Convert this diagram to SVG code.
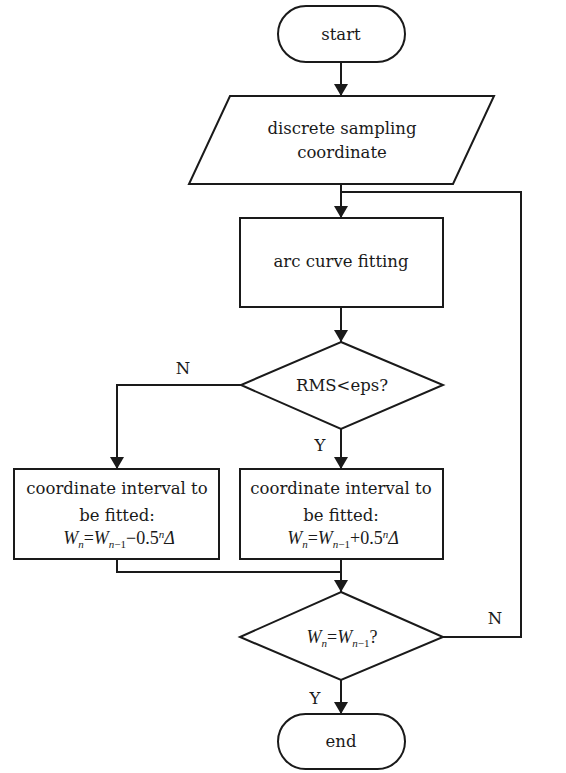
<svg xmlns="http://www.w3.org/2000/svg" width="566" height="773" viewBox="0 0 566 773">
<style>
.s{fill:#fff;stroke:#1a1a1a;stroke-width:2}
.c{fill:none;stroke:#1a1a1a;stroke-width:2}
text{font-family:"DejaVu Serif","Liberation Serif",serif;font-size:16.5px;fill:#1a1a1a;text-anchor:middle}
.f{font-family:"Liberation Serif","Times New Roman",serif;font-size:18px}
.i{font-style:italic}
.sub{font-size:11px}
</style>
<defs>
<marker id="a" viewBox="0 0 12 14" refX="12" refY="7" markerWidth="12" markerHeight="14" markerUnits="userSpaceOnUse" orient="auto">
<path d="M0,0 L12,7 L0,14 Z" fill="#1a1a1a"/>
</marker>
</defs>
<g id="connectors">
<path class="c" d="M341,62 V96" marker-end="url(#a)"/>
<path class="c" d="M341,184 V218" marker-end="url(#a)"/>
<path class="c" d="M341,307 V342" marker-end="url(#a)"/>
<path class="c" d="M241,385 H117 V469" marker-end="url(#a)"/>
<path class="c" d="M341,429 V469" marker-end="url(#a)"/>
<path class="c" d="M117,559 V572 H341"/>
<path class="c" d="M341,559 V592" marker-end="url(#a)"/>
<path class="c" d="M443,637 H521 V192 H341"/>
<path class="c" d="M341,680 V714" marker-end="url(#a)"/>
<text x="183" y="374">N</text>
<text x="320" y="451">Y</text>
<text x="495" y="624">N</text>
<text x="315" y="704">Y</text>
</g>
<g id="start">
<rect class="s" x="278" y="6" width="127" height="56" rx="28"/>
<text x="341" y="40">start</text>
</g>
<g id="input">
<polygon class="s" points="230,96 494,96 453,184 189,184"/>
<text x="342" y="134">discrete sampling</text>
<text x="342" y="158">coordinate</text>
</g>
<g id="fit">
<rect class="s" x="240" y="218" width="203" height="89"/>
<text x="341" y="267">arc curve fitting</text>
</g>
<g id="rms">
<polygon class="s" points="341,342 443,385 341,429 241,385"/>
<text x="342" y="391">RMS&lt;eps?</text>
</g>
<g id="left">
<rect class="s" x="14" y="469" width="205" height="90"/>
<text x="117" y="494">coordinate interval to</text>
<text x="117" y="521">be fitted:</text>
<text class="f" x="119" y="544"><tspan class="i">W</tspan><tspan class="i sub" dy="4">n</tspan><tspan dy="-4">=</tspan><tspan class="i">W</tspan><tspan class="i sub" dy="4">n</tspan><tspan class="sub">−1</tspan><tspan dy="-4">−0.5</tspan><tspan class="i sub" dy="-6">n</tspan><tspan class="i" dy="6">Δ</tspan></text>
</g>
<g id="right">
<rect class="s" x="240" y="469" width="203" height="90"/>
<text x="341" y="494">coordinate interval to</text>
<text x="341" y="521">be fitted:</text>
<text class="f" x="343" y="544"><tspan class="i">W</tspan><tspan class="i sub" dy="4">n</tspan><tspan dy="-4">=</tspan><tspan class="i">W</tspan><tspan class="i sub" dy="4">n</tspan><tspan class="sub">−1</tspan><tspan dy="-4">+0.5</tspan><tspan class="i sub" dy="-6">n</tspan><tspan class="i" dy="6">Δ</tspan></text>
</g>
<g id="check">
<polygon class="s" points="341,592 443,637 341,680 240,637"/>
<text class="f" x="342" y="643"><tspan class="i">W</tspan><tspan class="i sub" dy="4">n</tspan><tspan dy="-4">=</tspan><tspan class="i">W</tspan><tspan class="i sub" dy="4">n</tspan><tspan class="sub">−1</tspan><tspan dy="-4">?</tspan></text>
</g>
<g id="end">
<rect class="s" x="278" y="714" width="127" height="55" rx="27.5"/>
<text x="341" y="747">end</text>
</g>
</svg>
